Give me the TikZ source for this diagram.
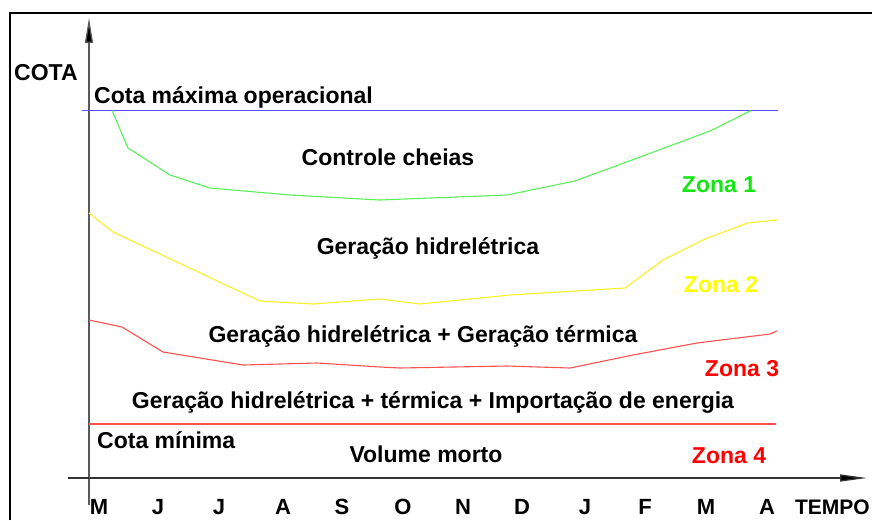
\documentclass[tikz,border=0pt]{standalone}
\usepackage{fontspec}
\setmainfont{Liberation Sans}
\usetikzlibrary{arrows.meta}
\definecolor{zgreen}{RGB}{20,230,20}
\definecolor{lgreen}{RGB}{90,240,90}
\definecolor{zyellow}{RGB}{255,255,0}
\definecolor{lyellow}{RGB}{250,240,40}
\definecolor{zred}{RGB}{255,0,0}
\definecolor{lred}{RGB}{255,80,80}
\definecolor{lblue}{RGB}{80,80,255}
\definecolor{axgray}{RGB}{90,90,90}
\tikzset{
  lbl/.style={inner sep=0pt, font=\fontsize{23}{27}\selectfont\bfseries, anchor=base},
  lblw/.style={lbl, anchor=base west},
  mon/.style={inner sep=0pt, font=\fontsize{22}{26}\selectfont\bfseries, anchor=base},
  zona/.style={lbl},
  curve/.style={line width=1.1pt, line join=round},
  axis/.style={line width=1.3pt},
}
\begin{document}
\begin{tikzpicture}[x=1pt,y=-1pt]
\useasboundingbox (0,0) rectangle (872,520);
\fill[white] (0,0) rectangle (872,520);
% frame
\draw[line width=2.6pt] (10,520) -- (10,13) -- (880,13);
% axes
\coordinate (ybot) at (89,505);
\coordinate (ytop) at (89,18);
\coordinate (xl) at (68,478);
\coordinate (xr) at (867,478);
\draw[axis, draw=axgray, -{Triangle[length=25pt,width=8pt,fill=black]}] (ybot) -- (ytop);
\draw[axis, draw=black!80, -{Triangle[length=27pt,width=7pt,fill=black]}] (xl) -- (xr);
% reference lines
\coordinate (bl) at (82,110.5);
\coordinate (br) at (778,110.5);
\draw[curve, lblue] (bl) -- (br);
\coordinate (rl) at (89,424);
\coordinate (rr) at (776,424);
\draw[curve, lred] (rl) -- (rr);
% green curve
\draw[curve, lgreen] (112,110.5) -- (128,148) -- (170,175) -- (210,188) -- (290,195) -- (380,200) -- (507,195) -- (575,181) -- (640,157) -- (710,131) -- (751,110.5);
% yellow curve
\draw[curve, lyellow] (89,213) -- (113,232) -- (260,301) -- (313,304) -- (380,299) -- (420,304) -- (510,295) -- (625,288) -- (663,260) -- (705,239) -- (748,223) -- (777,220);
% red curve
\draw[curve, lred] (89,320) -- (122,327) -- (163,352) -- (243,365) -- (317,363) -- (380,367) -- (400,368) -- (507,366) -- (570,368) -- (633,355) -- (697,343) -- (770,334) -- (777,331);
% texts
\node[lblw] (cota) at (14,80) {COTA};
\node[lblw] (cmax) at (94,103) {Cota máxima operacional};
\node[lbl] (cheias) at (388,165) {Controle cheias};
\node[lbl] (gh) at (428,254) {Geração hidrelétrica};
\node[lbl] (ght) at (423,342) {Geração hidrelétrica + Geração térmica};
\node[lbl] (ghti) at (433,408) {Geração hidrelétrica + térmica + Importação de energia};
\node[lblw] (cmin) at (97,448) {Cota mínima};
\node[lbl] (vm) at (426,462) {Volume morto};
\node[zona, text=zgreen] (z1) at (719,192) {Zona 1};
\node[zona, text=zyellow] (z2) at (721,292) {Zona 2};
\node[zona, text=zred] (z3) at (742,376) {Zona 3};
\node[zona, text=zred] (z4) at (729,463) {Zona 4};
% months
\node[mon] (m1) at (99,514) {M};
\node[mon] (m2) at (158,514) {J};
\node[mon] (m3) at (219,514) {J};
\node[mon] (m4) at (283,514) {A};
\node[mon] (m5) at (342,514) {S};
\node[mon] (m6) at (403,514) {O};
\node[mon] (m7) at (463,514) {N};
\node[mon] (m8) at (522,514) {D};
\node[mon] (m9) at (585,514) {J};
\node[mon] (m10) at (645,514) {F};
\node[mon] (m11) at (706,514) {M};
\node[mon] (m12) at (767,514) {A};
\node[mon, anchor=base east, font=\fontsize{21}{25}\selectfont\bfseries] (tempo) at (870,514) {TEMPO};
\end{tikzpicture}
\end{document}
